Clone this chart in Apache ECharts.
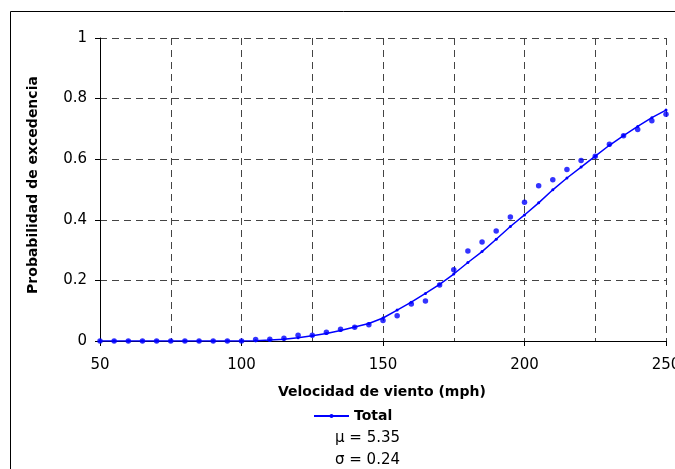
<!DOCTYPE html>
<html>
<head>
<meta charset="utf-8">
<script src="https://cdn.jsdelivr.net/npm/echarts@6/dist/echarts.min.js"></script>
<style>html,body{margin:0;padding:0;background:#fff}#c{width:675px;height:469px}</style>
</head>
<body>
<div id="c"></div>
<script>
const speeds = [50,55,60,65,70,75,80,85,90,95,100,105,110,115,120,125,130,135,140,145,150,155,160,165,170,175,180,185,190,195,200,205,210,215,220,225,230,235,240,245,250];
const totalFit = [0,0,0,0,0,0,0,0,0,0,0,0.001,0.003,0.006,0.011,0.017,0.025,0.035,0.046,0.058,0.076,0.102,0.128,0.157,0.187,0.221,0.259,0.295,0.336,0.378,0.416,0.456,0.499,0.538,0.574,0.610,0.646,0.678,0.708,0.737,0.762];
const observed = [0,0,0,0,0,0,0,0,0,0,0,0.005,0.006,0.009,0.019,0.019,0.029,0.039,0.045,0.054,0.068,0.083,0.122,0.132,0.185,0.235,0.297,0.327,0.363,0.409,0.458,0.512,0.532,0.566,0.596,0.610,0.649,0.677,0.698,0.727,0.748];
const xTitle = 'Velocidad de viento (mph)';
const yTitle = 'Probabilidad de excedencia';
const seriesName = 'Total';
const noteLines = ['μ = 5.35', 'σ = 0.24'];

const font = 'DejaVu Sans';
const blue = '#0000FF';
const chart = echarts.init(document.getElementById('c'), null, {renderer: 'canvas'});
chart.setOption({
  animation: false,
  backgroundColor: '#fff',
  grid: {left: 100, top: 38, width: 566, height: 303, containLabel: false, outerBoundsMode: 'none'},
  xAxis: {
    type: 'value', min: 50, max: 250, interval: 50,
    axisLine: {show: true, onZero: false, lineStyle: {color: '#000', width: 1}},
    axisTick: {show: true, length: 5, inside: false, lineStyle: {color: '#000'}},
    axisLabel: {color: '#000', fontFamily: font, fontSize: 15, margin: 17, hideOverlap: false, showMaxLabel: true},
    splitLine: {show: true, lineStyle: {color: '#444', type: [7, 5], width: 1}},
    minorTick: {show: false, splitNumber: 2},
    minorSplitLine: {show: true, lineStyle: {color: '#444', type: [7, 5], width: 1}}
  },
  yAxis: {
    type: 'value', min: 0, max: 1, interval: 0.2,
    axisLine: {show: true, onZero: false, lineStyle: {color: '#000', width: 1}},
    axisTick: {show: true, length: 5, lineStyle: {color: '#000'}},
    axisLabel: {color: '#000', fontFamily: font, fontSize: 15, margin: 13,
      formatter: v => (Math.round(v * 10) / 10).toString()},
    splitLine: {show: true, lineStyle: {color: '#444', type: [7, 5], width: 1}}
  },
  legend: {
    data: [seriesName], left: 308, top: 404, itemWidth: 35, itemHeight: 5, itemGap: 5,
    textStyle: {fontFamily: font, fontSize: 14, fontWeight: 'bold', color: '#000'}
  },
  series: [
    {
      name: 'Observed', type: 'scatter', symbol: 'circle', symbolSize: 5.5,
      itemStyle: {color: blue},
      data: speeds.map((s, i) => [s, observed[i]]), z: 3
    },
    {
      name: seriesName, type: 'line', symbol: 'circle', symbolSize: 3, showSymbol: true,
      lineStyle: {color: blue, width: 1.5}, itemStyle: {color: blue},
      data: speeds.map((s, i) => [s, totalFit[i]]), z: 4
    }
  ],
  graphic: [
    {type: 'rect', shape: {x: 10.5, y: 11.5, width: 800, height: 600}, style: {fill: 'none', stroke: '#000', lineWidth: 1}, silent: true, z: -1},
    {type: 'text', left: 278, top: 385, style: {text: xTitle, font: 'bold 14px "DejaVu Sans"', fill: '#000'}},
    {type: 'text', x: 33, y: 185, rotation: Math.PI / 2, style: {text: yTitle, font: 'bold 14px "DejaVu Sans"', fill: '#000', align: 'center', verticalAlign: 'middle'}},
    {type: 'text', x: 335, y: 438, style: {text: noteLines[0], font: '15px "DejaVu Sans"', fill: '#000', verticalAlign: 'middle'}},
    {type: 'text', x: 335, y: 460, style: {text: noteLines[1], font: '15px "DejaVu Sans"', fill: '#000', verticalAlign: 'middle'}}
  ]
});
</script>
</body>
</html>
